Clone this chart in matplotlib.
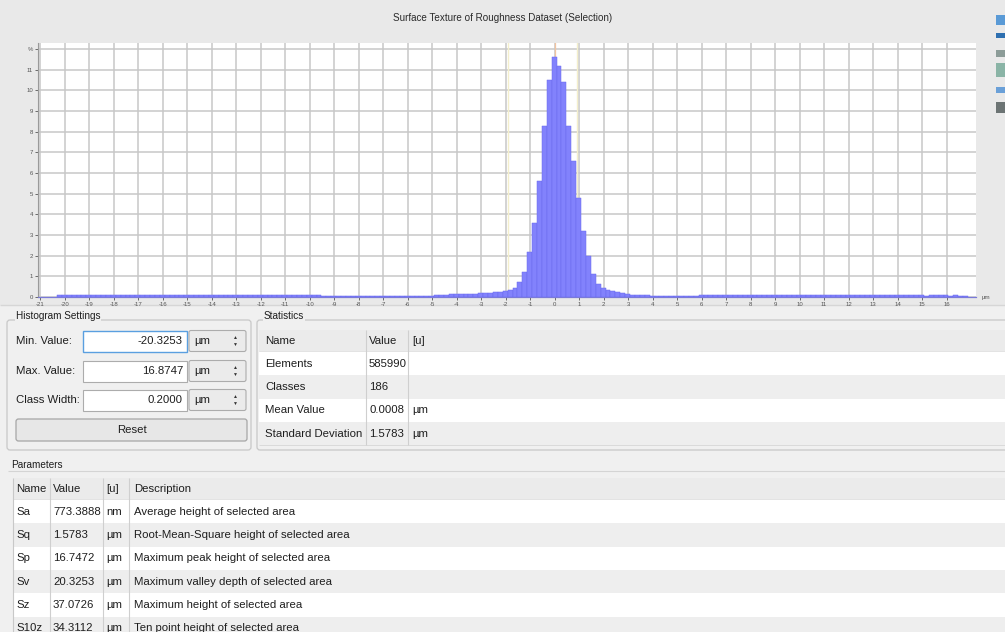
import matplotlib
matplotlib.use('Agg')
import matplotlib.pyplot as plt
from matplotlib.patches import Rectangle, FancyBboxPatch
import numpy as np

plt.rcParams['font.family'] = ['Liberation Sans', 'DejaVu Sans']

# ---------------- data ----------------
TITLE = "Surface Texture of Roughness Dataset (Selection)"
HIST_MIN = -20.3253
CLASS_WIDTH = 0.2
N_CLASSES = 186

# percentage of elements per class (186 classes)
class_percent = [
    0.10, 0.11, 0.10, 0.10, 0.11, 0.10, 0.10, 0.10, 0.11, 0.10,
    0.10, 0.10, 0.11, 0.10, 0.10, 0.10, 0.10, 0.11, 0.10, 0.10,
    0.10, 0.11, 0.10, 0.10, 0.10, 0.10, 0.10, 0.11, 0.10, 0.10,
    0.10, 0.10, 0.10, 0.11, 0.10, 0.10, 0.10, 0.10, 0.10, 0.10,
    0.10, 0.10, 0.10, 0.10, 0.10, 0.10, 0.09, 0.10, 0.10, 0.10,
    0.09, 0.10, 0.09, 0.09,
    0.06, 0.06, 0.06, 0.05, 0.06, 0.06, 0.06, 0.06, 0.05, 0.06,
    0.06, 0.06, 0.06, 0.06, 0.06, 0.06, 0.06, 0.07, 0.06, 0.06,
    0.06, 0.07, 0.07, 0.08,
    0.12, 0.12, 0.13, 0.13, 0.14, 0.14, 0.15, 0.16, 0.17, 0.18,
    0.20, 0.22, 0.25,
    0.28, 0.35, 0.45, 0.75, 1.20, 2.20, 3.60, 5.60, 8.30, 10.50,
    11.60, 11.20, 10.40, 8.30, 6.60, 4.80, 3.20, 2.00, 1.10, 0.65,
    0.45, 0.35, 0.28, 0.22, 0.18, 0.15, 0.12, 0.10,
    0.09, 0.08, 0.07, 0.06, 0.06, 0.05, 0.05, 0.05, 0.05, 0.05, 0.05,
    0.07, 0.08, 0.08, 0.08, 0.08, 0.09, 0.08, 0.08, 0.08, 0.08,
    0.08, 0.08, 0.09, 0.08, 0.08, 0.08, 0.08, 0.08, 0.08, 0.09,
    0.08, 0.08, 0.08, 0.08, 0.08, 0.08, 0.09, 0.08, 0.08, 0.08,
    0.08, 0.08, 0.08, 0.08, 0.09, 0.08, 0.08, 0.08, 0.08, 0.08,
    0.08, 0.08, 0.08, 0.08, 0.08, 0.08, 0.08, 0.07, 0.08, 0.08,
    0.08, 0.08, 0.07, 0.08, 0.07, 0.07,
]
MEAN_VALUE = 0.0008
marker_lines = [-1.9, 0.9]

x_ticks = list(range(-21, 17))
x_unit = "µm"
y_ticks = list(range(0, 13))
y_tick_labels = [str(v) for v in range(0, 12)] + ["%"]

settings_labels = ["Min. Value:", "Max. Value:", "Class Width:"]
settings_values = ["-20.3253", "16.8747", "0.2000"]
settings_units = ["µm", "µm", "µm"]

stats_header = ["Name", "Value", "[u]"]
stats_names = ["Elements", "Classes", "Mean Value", "Standard Deviation"]
stats_values = ["585990", "186", "0.0008", "1.5783"]
stats_units = ["", "", "µm", "µm"]

param_header = ["Name", "Value", "[u]", "Description"]
param_names = ["Sa", "Sq", "Sp", "Sv", "Sz", "S10z"]
param_values = ["773.3888", "1.5783", "16.7472", "20.3253", "37.0726", "34.3112"]
param_units = ["nm", "µm", "µm", "µm", "µm", "µm"]
param_desc = ["Average height of selected area",
              "Root-Mean-Square height of selected area",
              "Maximum peak height of selected area",
              "Maximum valley depth of selected area",
              "Maximum height of selected area",
              "Ten point height of selected area"]

# ---------------- figure ----------------
W, H = 1005, 632
fig = plt.figure(figsize=(W / 100, H / 100), dpi=100)
bg = fig.add_axes([0, 0, 1, 1], zorder=0)
bg.set_xlim(0, W)
bg.set_ylim(H, 0)
bg.axis('off')

TXT = '#1e1e1e'
FS = 8.2


def rect(x0, y0, x1, y1, fc, ec='none', lw=0.8, z=1):
    bg.add_patch(Rectangle((x0, y0), x1 - x0, y1 - y0, facecolor=fc,
                           edgecolor=ec, linewidth=lw, zorder=z))


def hline(x0, x1, y, c='#d2d2d2', lw=0.8, z=2):
    bg.plot([x0, x1], [y, y], color=c, lw=lw, zorder=z, solid_capstyle='butt')


def vline(x, y0, y1, c='#d2d2d2', lw=0.8, z=2):
    bg.plot([x, x], [y0, y1], color=c, lw=lw, zorder=z, solid_capstyle='butt')


def txt(x, y, s, size=FS, ha='left', color=TXT, z=5, **kw):
    bg.text(x, y, s, fontsize=size, ha=ha, va='center', color=color,
            zorder=z, **kw)


# backgrounds
rect(0, 0, W, 305, '#e9e9e9', z=0)
rect(0, 305, W, H, '#f0f0f0', z=0)
hline(0, W, 305, '#d6d6d6', 1.0)

# title
txt(503, 18, TITLE, size=7.1, ha='center', color='#2a2a2a')

# toolbar icons on the right
for (y0, y1, c) in [(15, 25, '#5a9ad6'), (33, 38, '#2e6fb0'), (50, 57, '#8c9c98'),
                    (63, 77, '#8ab4a6'), (87, 93, '#6aa0d8'), (102, 113, '#6c7474')]:
    rect(996, y0, 1005, y1, c, z=2)

# ---------------- histogram axes ----------------
ax = fig.add_axes([38 / W, 1 - 297 / H, (976 - 38) / W, (297 - 43) / H], zorder=3)
ax.set_facecolor('white')
left_edges = HIST_MIN + CLASS_WIDTH * np.arange(N_CLASSES)
ax.bar(left_edges, class_percent, width=CLASS_WIDTH, align='edge',
       color='#8282fc', edgecolor='#6a6aee', linewidth=0.35, zorder=3)
for xv in marker_lines:
    ax.axvline(xv, color='#f4efcc', lw=1.0, zorder=2)
ax.axvline(MEAN_VALUE, color='#f2c4a0', lw=0.9, zorder=2)

ax.set_xlim(-21.1, 17.2)
ax.set_ylim(0, 12.3)
ax.set_xticks(x_ticks)
ax.set_xticklabels([str(v) for v in x_ticks])
ax.set_yticks(y_ticks)
ax.set_yticklabels(y_tick_labels)
ax.tick_params(labelsize=4.3, colors='#555555', length=2, width=0.6, pad=1.5)
ax.grid(True, color='#c8c8c8', lw=1.1)
ax.set_axisbelow(True)
for s in ['top', 'right']:
    ax.spines[s].set_visible(False)
ax.spines['left'].set_color('#9a9a9a')
ax.spines['left'].set_linewidth(0.8)
ax.spines['bottom'].set_color('#7a7ad8')
ax.spines['bottom'].set_linewidth(0.9)
txt(982, 297, x_unit, size=4.5, color='#555555')

# ---------------- Histogram Settings group ----------------
bg.add_patch(FancyBboxPatch((7, 320), 244, 130, boxstyle='round,pad=0,rounding_size=3',
                            facecolor='none', edgecolor='#c8c8c8', lw=0.9, zorder=2))
txt(16, 316, "Histogram Settings", size=7.2,
    bbox=dict(facecolor='#f0f0f0', edgecolor='none', pad=0.5))
row_y = [341, 371, 400]
for i, (lab, val, unit) in enumerate(zip(settings_labels, settings_values, settings_units)):
    y = row_y[i]
    txt(16, y, lab)
    ec = '#5a9fe0' if i == 0 else '#acacac'
    rect(83, y - 10.5, 187, y + 10.5, 'white', ec=ec, lw=1.0 if i == 0 else 0.8, z=3)
    txt(183, y, val, ha='right')
    bg.add_patch(FancyBboxPatch((189, y - 10.5), 57, 21, boxstyle='round,pad=0,rounding_size=2',
                                facecolor='#ebebeb', edgecolor='#acacac', lw=0.8, zorder=3))
    txt(194, y, unit)
    txt(235, y - 3.2, "▲", size=3.6, ha='center', color='#333333')
    txt(235, y + 3.2, "▼", size=3.6, ha='center', color='#333333')
bg.add_patch(FancyBboxPatch((16, 419), 231, 22, boxstyle='round,pad=0,rounding_size=2.5',
                            facecolor='#e7e7e7', edgecolor='#a6a6a6', lw=0.9, zorder=3))
txt(132, 430, "Reset", ha='center')

# ---------------- Statistics group ----------------
bg.add_patch(FancyBboxPatch((257, 320), 760, 130, boxstyle='round,pad=0,rounding_size=3',
                            facecolor='none', edgecolor='#c8c8c8', lw=0.9, zorder=2))
txt(264, 316, "Statistics", size=7.2,
    bbox=dict(facecolor='#f0f0f0', edgecolor='none', pad=0.5))
RH = 23.3
st_x0, st_x1 = 259, W
st_cols = [366, 408]
rect(st_x0, 330, st_x1, 352, '#ebebeb', z=2)
hline(st_x0, st_x1, 352, '#c4c4c4', 1.0)
for i in range(len(stats_names)):
    y0 = 352 + i * RH
    rect(st_x0, y0, st_x1, y0 + RH, 'white' if i % 2 == 0 else '#eeeeee', z=2)
    hline(st_x0, st_x1, y0 + RH, '#dadada', 0.7)
for c in st_cols:
    vline(c, 330, 352 + RH * len(stats_names), '#cfcfcf', 0.8, z=3)
txt(265, 341, stats_header[0])
txt(369, 341, stats_header[1])
txt(412, 341, stats_header[2])
for i, (n, v, u) in enumerate(zip(stats_names, stats_values, stats_units)):
    yc = 352 + i * RH + RH / 2
    txt(265, yc, n)
    txt(369, yc, v)
    if u:
        txt(412, yc, u)

# ---------------- Parameters ----------------
txt(11, 465, "Parameters", size=7.2)
hline(8, W, 471, '#d4d4d4', 0.8)
pt_x0, pt_x1 = 13, W
pt_cols = [50, 103, 129]
rect(pt_x0, 478, pt_x1, 500, '#ebebeb', z=2)
hline(pt_x0, pt_x1, 500, '#c4c4c4', 1.0)
for i in range(len(param_names)):
    y0 = 500 + i * RH
    rect(pt_x0, y0, pt_x1, y0 + RH, 'white' if i % 2 == 0 else '#eeeeee', z=2)
    hline(pt_x0, pt_x1, y0 + RH, '#dadada', 0.7)
for c in pt_cols:
    vline(c, 478, H, '#cfcfcf', 0.8, z=3)
vline(pt_x0, 478, H, '#c8c8c8', 0.8, z=3)
hdr_x = [16, 53, 106, 134]
for hx, h in zip(hdr_x, param_header):
    txt(hx, 489, h)
for i in range(len(param_names)):
    yc = 500 + i * RH + RH / 2
    txt(16, yc, param_names[i])
    txt(53, yc, param_values[i])
    txt(106, yc, param_units[i])
    txt(134, yc, param_desc[i])

fig.savefig('out.png', dpi=100)
